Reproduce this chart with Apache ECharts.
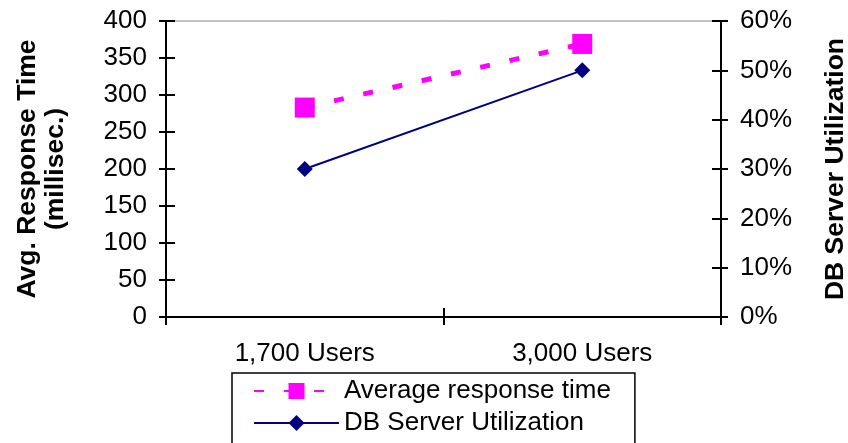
<!DOCTYPE html>
<html lang="en">
<head>
    <meta charset="UTF-8">
    <title>Response time vs DB utilization</title>
    <script src="https://cdn.jsdelivr.net/npm/echarts@6/dist/echarts.min.js"></script>
    <style>
        html, body { margin: 0; padding: 0; background: #fff; }
        #chart { width: 848px; height: 443px; }
    </style>
</head>
<body>
    <div id="chart"></div>
    <script>
        var categories = ['1,700 Users', '3,000 Users'];
        var responseTime = [283, 369];   // millisec.
        var dbUtil = [30, 50];           // percent
        var leftTicks = { min: 0, max: 400, interval: 50 };
        var rightTicks = { min: 0, max: 60, interval: 10 };

        var font = 'Liberation Sans, Arial, sans-serif';
        var fs = 26;

        var myChart = echarts.init(document.getElementById('chart'));

        // ticks cross the axis line: one axis draws the outer part, a twin draws the inner part
        function yAxisPair(pos, ticks, fmt, name, gap) {
            return [{
                type: 'value', position: pos,
                min: ticks.min, max: ticks.max, interval: ticks.interval,
                axisLine: { show: true, lineStyle: { color: '#000', width: 2 } },
                axisTick: { show: true, inside: false, length: 7, lineStyle: { color: '#000', width: 2 } },
                axisLabel: { formatter: fmt, margin: 19, color: '#000', fontSize: fs, fontFamily: font },
                splitLine: { show: false },
                name: name, nameLocation: 'middle', nameRotate: 90, nameGap: gap,
                nameTextStyle: { color: '#000', fontSize: 26.5, fontWeight: 'bold', fontFamily: font, lineHeight: 28 }
            }, {
                type: 'value', position: pos,
                min: ticks.min, max: ticks.max, interval: ticks.interval,
                axisLine: { show: false },
                axisTick: { show: true, inside: true, length: 9, lineStyle: { color: '#000', width: 2 } },
                axisLabel: { show: false },
                splitLine: { show: false }
            }];
        }
        var leftPair = yAxisPair('left', leftTicks, '{value}', 'Avg. Response Time\n(millisec.)', 96);
        var rightPair = yAxisPair('right', rightTicks, '{value}%', 'DB Server Utilization', 101);

        var option = {
            backgroundColor: '#fff',
            animation: false,
            grid: {
                left: 166, right: 127, top: 21, bottom: 126,
                outerBoundsMode: 'none',
                show: true, borderColor: '#888', borderWidth: 1, backgroundColor: 'transparent'
            },
            legend: {
                orient: 'vertical',
                left: 232, top: 373, height: 140,
                padding: [4, 24, 30, 21],
                itemGap: 4,
                itemWidth: 85,
                itemHeight: 20,
                borderColor: '#000',
                borderWidth: 1.5,
                borderRadius: 0,
                textStyle: { color: '#000', fontSize: fs, fontFamily: font, lineHeight: 28 },
                data: ['Average response time', 'DB Server Utilization']
            },
            xAxis: [{
                type: 'category', data: categories, position: 'bottom',
                boundaryGap: true,
                axisLine: { show: true, lineStyle: { color: '#000', width: 2 } },
                axisTick: { show: true, inside: false, length: 8, lineStyle: { color: '#000', width: 2 } },
                axisLabel: { margin: 24, color: '#000', fontSize: fs, fontFamily: font }
            }, {
                type: 'category', data: categories, position: 'bottom',
                boundaryGap: true,
                axisLine: { show: false },
                axisTick: { show: true, inside: true, length: 9, lineStyle: { color: '#000', width: 2 } },
                axisLabel: { show: false }
            }],
            yAxis: [leftPair[0], rightPair[0], leftPair[1], rightPair[1]],
            series: [{
                name: 'Average response time',
                type: 'line',
                xAxisIndex: 0, yAxisIndex: 0,
                data: responseTime,
                symbol: 'rect', symbolSize: 20,
                itemStyle: { color: '#ff00ff' },
                lineStyle: { color: '#ff00ff', width: 5, type: [10, 20] }
            }, {
                name: 'DB Server Utilization',
                type: 'line',
                xAxisIndex: 0, yAxisIndex: 1,
                data: dbUtil,
                symbol: 'diamond', symbolSize: 16,
                itemStyle: { color: '#000080' },
                lineStyle: { color: '#000080', width: 2 }
            }]
        };
        myChart.setOption(option);
    </script>
</body>
</html>
